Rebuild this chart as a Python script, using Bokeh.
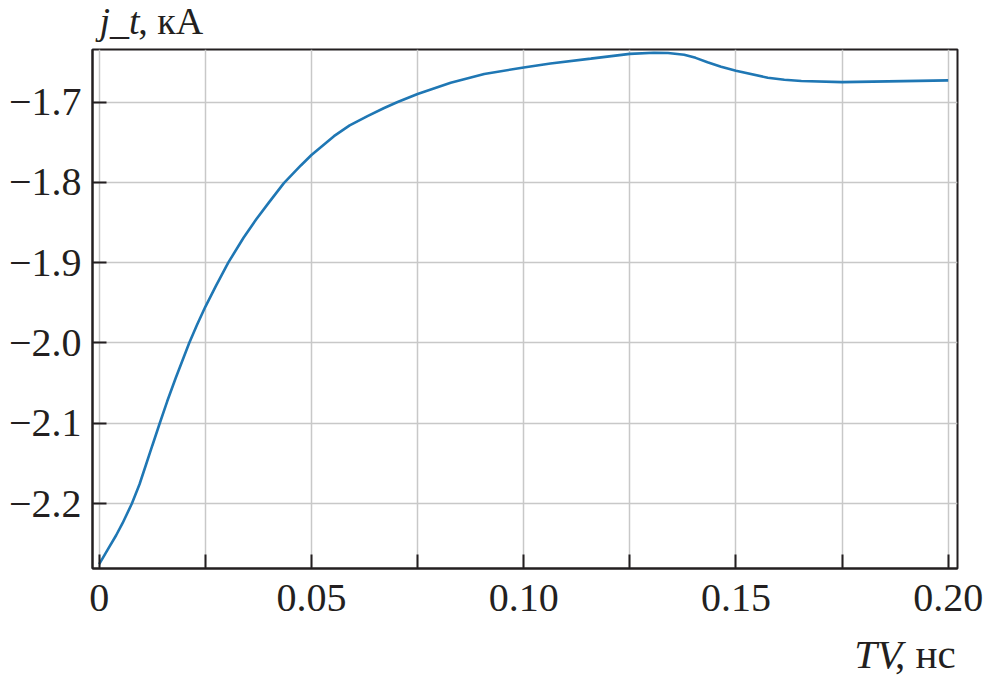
from bokeh.plotting import figure
from bokeh.layouts import column
from bokeh.models import FixedTicker, Range1d, Label, CustomJSTickFormatter
from bokeh.embed import file_html
from bokeh.resources import INLINE

# ---- data ----
tv_ns = [0.0, 0.002, 0.004, 0.0055, 0.0077, 0.0095, 0.011, 0.0125, 0.0142, 0.016,
         0.018, 0.0212, 0.023, 0.025, 0.0275, 0.0304, 0.034, 0.037, 0.040, 0.0435,
         0.0475, 0.05, 0.0553, 0.059, 0.0632, 0.067, 0.0703, 0.075, 0.0828, 0.0907,
         0.1, 0.1063, 0.1158, 0.125, 0.1307, 0.134, 0.1378, 0.1405, 0.1433, 0.1465,
         0.15, 0.1575, 0.1614, 0.1654, 0.175, 0.1894, 0.2]
j_t_ka = [-2.2755, -2.2575, -2.2395, -2.2245, -2.200, -2.176, -2.152, -2.128, -2.101, -2.073,
          -2.044, -2.000, -1.978, -1.955, -1.929, -1.900, -1.869, -1.846, -1.825, -1.801,
          -1.779, -1.766, -1.7425, -1.729, -1.7175, -1.7078, -1.700, -1.690, -1.676, -1.665,
          -1.657, -1.652, -1.646, -1.640, -1.6387, -1.639, -1.6412, -1.645, -1.6504, -1.656,
          -1.661, -1.6698, -1.6722, -1.6738, -1.6752, -1.674, -1.6731]

x_ticks = [0, 0.025, 0.05, 0.075, 0.1, 0.125, 0.15, 0.175, 0.2]
x_tick_labels = ["0", "", "0.05", "", "0.10", "", "0.15", "", "0.20"]
y_ticks = [-2.2, -2.1, -2.0, -1.9, -1.8, -1.7]
y_tick_labels = ["\u22122.2", "\u22122.1", "\u22122.0", "\u22121.9", "\u22121.8", "\u22121.7"]

x_label_italic, x_label_rest = "TV", ", нс"
y_label_italic, y_label_rest = "j_t", ", кА"

X0, X1 = -0.00158, 0.20219
Y0, Y1 = -2.2809, -1.6346

W = 984
H_TOP, H_MAIN, H_BOT = 47, 583, 48
FONT = "Liberation Serif"
INK = "#231f20"


def text_strip(h):
    f = figure(width=W, height=h, output_backend="svg", toolbar_location=None,
               x_range=Range1d(0, W), y_range=Range1d(0, h),
               x_axis_type=None, y_axis_type=None, min_border=0,
               outline_line_color=None, background_fill_color="white",
               border_fill_color="white")
    return f


# ---- main plot ----
p = figure(width=W, height=H_MAIN, output_backend="svg", toolbar_location=None,
           x_range=Range1d(X0, X1), y_range=Range1d(Y0, Y1),
           min_border_left=92, min_border_right=27,
           min_border_top=2, min_border_bottom=62,
           background_fill_color="white", border_fill_color="white")

p.line(tv_ns, j_t_ka, line_color="#1f77b4", line_width=2.6)

fmt_code = """
const i = tvals.findIndex(t => Math.abs(t - tick) < 1e-9);
return i >= 0 ? tlabels[i] : '';
"""
for ax, tv, tl in ((p.xaxis[0], x_ticks, x_tick_labels),
                   (p.yaxis[0], y_ticks, y_tick_labels)):
    ax.ticker = FixedTicker(ticks=tv)
    ax.formatter = CustomJSTickFormatter(args=dict(tvals=tv, tlabels=tl), code=fmt_code)
    ax.major_tick_in = 14
    ax.major_tick_out = 0
    ax.minor_tick_line_color = None
    ax.major_tick_line_width = 2
    ax.major_tick_line_color = INK
    ax.axis_line_width = 2
    ax.axis_line_color = INK
    ax.major_label_text_font = FONT
    ax.major_label_text_font_size = "40px"
    ax.major_label_text_color = INK

p.xaxis.major_label_standoff = 16
p.yaxis.major_label_standoff = 11

for g in (p.xgrid[0], p.ygrid[0]):
    g.grid_line_color = "#c8c8c8"
    g.grid_line_width = 1.5

p.outline_line_color = INK
p.outline_line_width = 2
p.outline_line_alpha = 1.0

# ---- axis titles (mixed italic / upright) ----
common = dict(text_font=FONT, text_color=INK, text_baseline="alphabetic")

top = text_strip(H_TOP)
top.add_layout(Label(x=8, y=27, text=y_label_italic, text_font_style="italic",
                     text_font_size="38px", text_align="left", **common))
top.add_layout(Label(x=52, y=27, text=y_label_rest,
                     text_font_size="38px", text_align="left", **common))

bot = text_strip(H_BOT)
bot.add_layout(Label(x=921, y=24.5, text=x_label_italic, text_font_style="italic",
                     text_font_size="41px", text_align="right", **common))
bot.add_layout(Label(x=982, y=24.5, text=x_label_rest,
                     text_font_size="41px", text_align="right", **common))

layout = column(top, p, bot, spacing=0)

open("out.html", "w").write(file_html(layout, INLINE))
